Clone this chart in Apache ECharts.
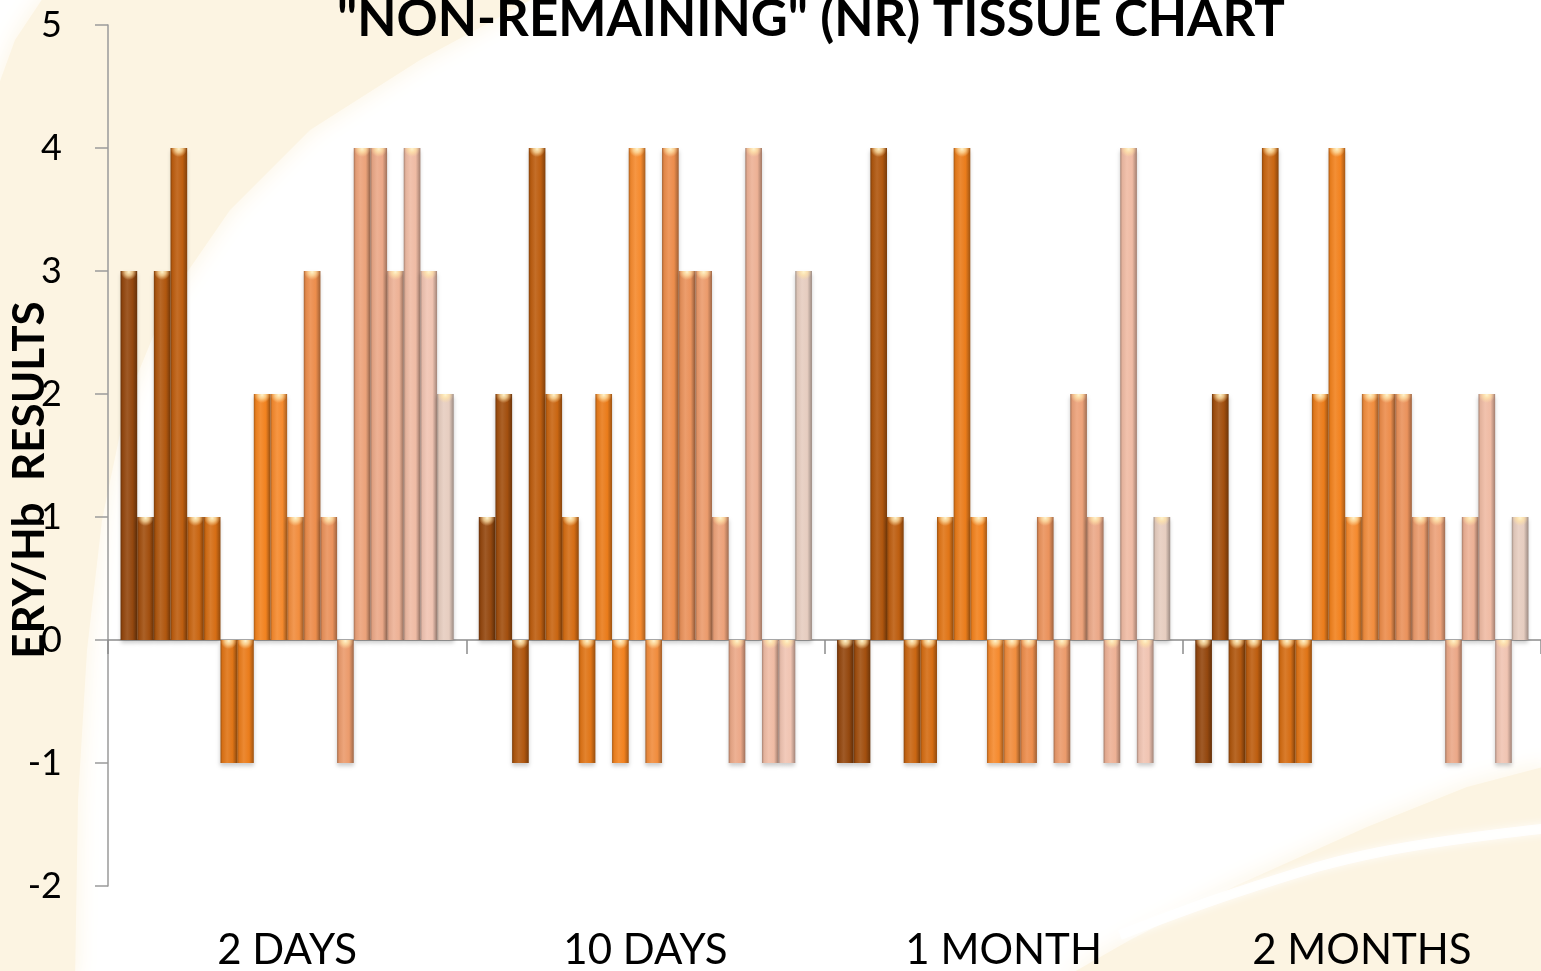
<!DOCTYPE html>
<html>
<head>
<meta charset="utf-8">
<title>"NON-REMAINING" (NR) TISSUE CHART</title>
<script src="https://cdn.jsdelivr.net/npm/echarts@6/dist/echarts.min.js"></script>
<style>
  html, body { margin: 0; padding: 0; background: #ffffff; }
  #chart { width: 1541px; height: 971px; }
</style>
</head>
<body>
<div id="chart"></div>
<script>
// Time points on the x axis
const categories = ['2 DAYS', '10 DAYS', '1 MONTH', '2 MONTHS'];

// ERY/Hb results of the 20 tissue samples at each time point (sample 1 .. sample 20)
const days2   = [3, 1, 3, 4, 1, 1, -1, -1, 2, 2, 1, 3, 1, -1, 4, 4, 3, 4, 3, 2];
const days10  = [1, 2, -1, 4, 2, 1, -1, 2, -1, 4, -1, 4, 3, 3, 1, -1, 4, -1, -1, 3];
const month1  = [-1, -1, 4, 1, -1, -1, 1, 4, 1, -1, -1, -1, 1, -1, 2, 1, -1, 4, -1, 1];
const months2 = [-1, 2, -1, -1, 4, -1, -1, 2, 4, 1, 2, 2, 2, 1, 1, -1, 1, 2, -1, 1];

// Value axis range
const yMin = -2;
const yMax = 5;
const yStep = 1;

// Palette: dark burnt orange through bright orange to pale peach
const sampleColors = [
  '#94480f', '#a24f0f', '#b0570f', '#bd5e10', '#c96612',
  '#d56d14', '#e07517', '#ea7c1b', '#f2821f', '#f58a2e',
  '#f18d3e', '#ec8d4c', '#ea925c', '#eb9b6c', '#eca27a',
  '#eba888', '#edb195', '#efbba4', '#f0c4b2', '#e6cdc0'
];

const groups = [days2, days10, month1, months2];

function shade(hex, amt) {
  const n = parseInt(hex.slice(1), 16);
  let r = n >> 16, g = (n >> 8) & 255, b = n & 255;
  const t = amt < 0 ? 0 : 255, p = Math.abs(amt);
  r = Math.round((t - r) * p + r);
  g = Math.round((t - g) * p + g);
  b = Math.round((t - b) * p + b);
  return 'rgb(' + r + ',' + g + ',' + b + ')';
}

// Cylinder-like horizontal shading for each bar
function barFill(c) {
  return {
    type: 'linear', x: 0, y: 0, x2: 1, y2: 0,
    colorStops: [
      { offset: 0, color: shade(c, -0.3) },
      { offset: 0.12, color: shade(c, -0.05) },
      { offset: 0.4, color: shade(c, 0.1) },
      { offset: 0.72, color: c },
      { offset: 1, color: shade(c, -0.32) }
    ]
  };
}

// light bevel highlight at the top end of each bar
const capStyle = {
  width: 16, height: 9, lineHeight: 9, fontSize: 6,
  backgroundColor: {
    type: 'radial', x: 0.5, y: 0.1, r: 0.9,
    colorStops: [
      { offset: 0, color: 'rgba(255,244,205,1)' },
      { offset: 0.45, color: 'rgba(255,228,170,0.75)' },
      { offset: 1, color: 'rgba(255,220,160,0)' }
    ]
  }
};

const series = sampleColors.map((c, i) => ({
  type: 'bar',
  name: 'Sample ' + (i + 1),
  xAxisIndex: 0,
  data: groups.map(g => g[i]),
  barGap: '0%',
  barCategoryGap: '7%',
  itemStyle: {
    color: barFill(c),
    shadowBlur: 4,
    shadowOffsetY: 3,
    shadowColor: 'rgba(0,0,0,0.2)'
  },
  label: {
    show: true,
    position: 'insideTop',
    distance: 0,
    formatter: '{cap| }',
    rich: { cap: capStyle }
  },
  emphasis: { disabled: true }
}));

const chart = echarts.init(document.getElementById('chart'), null, { renderer: 'canvas' });

chart.setOption({
  animation: false,
  backgroundColor: '#ffffff',
  textStyle: { fontFamily: 'Lato' },
  grid: { left: 108, right: -2, top: 25, bottom: 83, containLabel: false },
  graphic: [
    // soft cream swoosh on the left
    {
      type: 'polygon', z: -10, silent: true,
      shape: { points: [[45, -5], [540, -5], [420, 60], [310, 130], [230, 210], [168, 300],
                        [127, 400], [102, 520], [87, 650], [78, 800], [75, 980], [-5, 980],
                        [-5, 95], [15, 40]] },
      style: { fill: '#fcf4e2', shadowBlur: 25, shadowColor: '#fcf4e2' }
    },
    // cream swoosh in the lower right corner
    {
      type: 'polygon', z: -10, silent: true,
      shape: { points: [[1060, 980], [1130, 940], [1233, 887], [1367, 827], [1467, 787], [1550, 765], [1550, 980]] },
      style: { fill: '#fcf4e2', shadowBlur: 25, shadowColor: '#fcf4e2' }
    },
    {
      type: 'polyline', z: -9, silent: true,
      shape: { points: [[1120, 935], [1250, 888], [1380, 852], [1550, 828]], smooth: 0.4 },
      style: { stroke: 'rgba(255,255,255,0.85)', lineWidth: 10, fill: null, shadowBlur: 10, shadowColor: '#ffffff' }
    },
    {
      type: 'text', x: 811, y: 20, z: 10,
      style: {
        text: '"NON-REMAINING" (NR) TISSUE CHART',
        fontFamily: 'Lato', fontWeight: 'bold', fontSize: 51,
        fill: '#000000', textAlign: 'center', textVerticalAlign: 'middle'
      }
    },
    {
      type: 'text', x: 30, y: 480, rotation: Math.PI / 2, z: 10,
      style: {
        text: 'ERY/Hb  RESULTS',
        fontFamily: 'Lato', fontWeight: 'bold', fontSize: 44,
        fill: '#000000', textAlign: 'center', textVerticalAlign: 'middle'
      }
    }
  ],
  xAxis: [
    {
      type: 'category',
      data: categories,
      position: 'bottom',
      axisLine: { show: false, onZero: false },
      axisTick: { show: false },
      splitLine: { show: false },
      axisLabel: { fontSize: 42, color: '#000000', margin: 43, fontFamily: 'Lato' }
    },
    {
      type: 'category',
      data: categories,
      position: 'bottom',
      axisLine: { show: true, onZero: true, lineStyle: { color: '#8c8c8c', width: 1.5 } },
      axisTick: { show: true, length: 14, lineStyle: { color: '#8c8c8c', width: 1.5 } },
      axisLabel: { show: false },
      splitLine: { show: false }
    }
  ],
  yAxis: {
    type: 'value',
    min: yMin,
    max: yMax,
    interval: yStep,
    axisLine: { show: true, lineStyle: { color: '#9a9a9a', width: 1.5 } },
    axisTick: { show: true, length: 13, lineStyle: { color: '#9a9a9a', width: 1.5 } },
    splitLine: { show: false },
    axisLabel: { fontSize: 36, color: '#000000', margin: 46, fontFamily: 'Lato' }
  },
  series: series
});
</script>
</body>
</html>
